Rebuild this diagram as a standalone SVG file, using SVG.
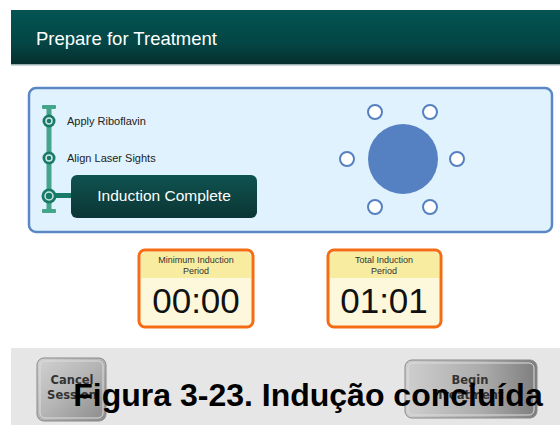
<svg xmlns="http://www.w3.org/2000/svg" width="560" height="425" viewBox="0 0 560 425">
<defs>
<linearGradient id="hdr" x1="0" y1="0" x2="0" y2="1">
<stop offset="0" stop-color="#025453"/><stop offset="0.6" stop-color="#034645"/><stop offset="1" stop-color="#062e2d"/>
</linearGradient>
<linearGradient id="btn" x1="0" y1="0" x2="0" y2="1">
<stop offset="0" stop-color="#0f5350"/><stop offset="1" stop-color="#0b3534"/>
</linearGradient>
<linearGradient id="gbtn" x1="0" y1="0" x2="1" y2="1">
<stop offset="0" stop-color="#d2d2d2"/><stop offset="0.5" stop-color="#b4b4b4"/><stop offset="1" stop-color="#8a8a8a"/>
</linearGradient>
<linearGradient id="gbtn2" x1="0" y1="0" x2="1" y2="0">
<stop offset="0" stop-color="#cfcfcf"/><stop offset="0.6" stop-color="#aaaaaa"/><stop offset="1" stop-color="#7d7d7d"/>
</linearGradient>
<style>
.t{font-family:"Liberation Sans",Arial,sans-serif}
.step{font-size:11px;fill:#222}
.ring{fill:#fff;stroke:#5580c2;stroke-width:2}
.dot{fill:#187a68}
.tbox{fill:#fdf8dc;stroke:#f56c14;stroke-width:3}
.thead{font-size:9px;fill:#333;text-anchor:middle}
.tval{font-size:35px;fill:#111;text-anchor:middle}
.gb{font-family:"DejaVu Sans",sans-serif;font-size:11.5px;font-weight:bold;fill:#333;text-anchor:middle}
</style>
</defs>
<rect width="560" height="425" fill="#fff"/>
<g id="header">
<rect x="11" y="10" width="549" height="55" fill="url(#hdr)"/>
<rect x="11" y="64" width="549" height="1.5" fill="#9ab0b0"/>
<text class="t" x="36" y="45" font-size="18.5" fill="#fff">Prepare for Treatment</text>
</g>
<g id="panel">
<rect x="29" y="88" width="523" height="144" rx="7" fill="#e0f2fd" stroke="#5b87c5" stroke-width="2.5"/>
</g>
<g id="connectors">
<rect x="46.5" y="106" width="5" height="106" fill="#45a58b"/>
<rect x="42" y="105" width="14" height="4" rx="1" fill="#45a58b"/>
<rect x="42" y="209" width="14" height="4" rx="1" fill="#45a58b"/>
<rect x="49" y="193" width="24" height="5" fill="#187a68"/>
</g>
<g id="step1">
<circle class="dot" cx="49" cy="121" r="6.5"/>
<circle cx="49" cy="121" r="3" fill="none" stroke="#cfe8e2" stroke-width="1.5"/>
<text class="t step" x="67" y="125">Apply Riboflavin</text>
</g>
<g id="step2">
<circle class="dot" cx="49" cy="158" r="6.5"/>
<circle cx="49" cy="158" r="3" fill="none" stroke="#cfe8e2" stroke-width="1.5"/>
<text class="t step" x="67" y="162">Align Laser Sights</text>
</g>
<g id="step3">
<circle class="dot" cx="49" cy="196" r="7.5"/>
<circle cx="49" cy="196" r="4" fill="none" stroke="#cfe8e2" stroke-width="1.5"/>
<rect x="71" y="175" width="186" height="43" rx="6" fill="url(#btn)"/>
<text class="t" x="164" y="201" font-size="15.5" fill="#fff" text-anchor="middle">Induction Complete</text>
</g>
<g id="target">
<circle cx="403" cy="159" r="35" fill="#5580c2"/>
<circle class="ring" cx="375" cy="112" r="7"/>
<circle class="ring" cx="430" cy="112" r="7"/>
<circle class="ring" cx="347" cy="159" r="7"/>
<circle class="ring" cx="457" cy="159" r="7"/>
<circle class="ring" cx="375" cy="207" r="7"/>
<circle class="ring" cx="430" cy="207" r="7"/>
</g>
<g id="timer1">
<rect class="tbox" x="139" y="250" width="114" height="77" rx="6"/>
<path d="M141 257 a5 5 0 0 1 5 -5 h100 a5 5 0 0 1 5 5 v21 h-110 z" fill="#f7eca0"/>
<text class="t thead" x="196" y="263">Minimum Induction</text>
<text class="t thead" x="196" y="274">Period</text>
<text class="t tval" x="196" y="313">00:00</text>
</g>
<g id="timer2">
<rect class="tbox" x="328" y="250" width="113" height="77" rx="6"/>
<path d="M330 257 a5 5 0 0 1 5 -5 h99 a5 5 0 0 1 5 5 v21 h-109 z" fill="#f7eca0"/>
<text class="t thead" x="384" y="263">Total Induction</text>
<text class="t thead" x="384" y="274">Period</text>
<text class="t tval" x="384" y="313">01:01</text>
</g>
<g id="footer">
<rect x="11" y="348" width="549" height="77" fill="#e6e6e6"/>
</g>
<g id="cancel">
<rect x="37" y="358" width="69" height="63" rx="7" fill="url(#gbtn)" stroke="#888" stroke-width="1"/>
<rect x="40" y="361" width="63" height="57" rx="5" fill="none" stroke="#ddd" stroke-width="1"/>
<text class="gb" x="72" y="384">Cancel</text>
<text class="gb" x="72" y="399">Session</text>
</g>
<g id="begin">
<rect x="405" y="360" width="132" height="58" rx="7" fill="url(#gbtn2)" stroke="#888" stroke-width="1"/>
<rect x="408" y="363" width="126" height="52" rx="5" fill="none" stroke="#ddd" stroke-width="1"/>
<text class="gb" x="470" y="384">Begin</text>
<text class="gb" x="470" y="399">Treatment</text>
</g>
<text class="t" x="308" y="406" font-size="32" font-weight="bold" fill="#000" text-anchor="middle">Figura 3-23. Indução concluída</text>
</svg>
